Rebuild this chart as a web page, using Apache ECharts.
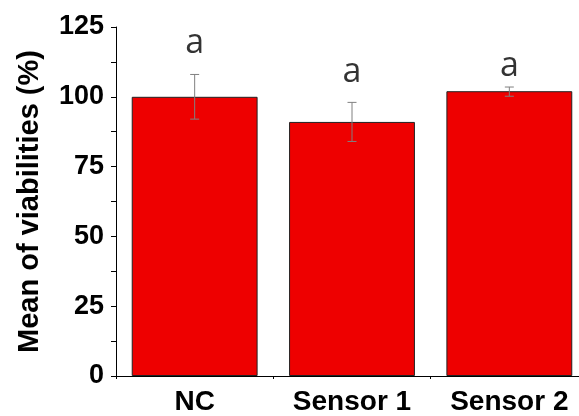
<!DOCTYPE html>
<html><head><meta charset="utf-8">
<script src="https://cdn.jsdelivr.net/npm/echarts@6/dist/echarts.min.js"></script>
<style>html,body{margin:0;padding:0;background:#fff;overflow:hidden}#c{width:600px;height:416px}</style>
</head><body><div id="c"></div>
<script>
const categories = ['NC', 'Sensor 1', 'Sensor 2'];
const means = [100, 91, 102];
const errLow = [92, 84, 100.2];
const errHigh = [108, 98, 103.5];
const letters = ['a', 'a', 'a'];
const letterPos = [119.3, 108.6, 110.8];
const yTicks = [0, 25, 50, 75, 100, 125];

const chart = echarts.init(document.getElementById('c'));
const font = 'Liberation Sans, Arial, sans-serif';
chart.setOption({
  animation: false,
  grid: { left: 116, top: 27, bottom: 38, right: 12, containLabel: false },
  xAxis: [{
    type: 'category', data: categories,
    axisLine: { lineStyle: { color: '#000', width: 1 } },
    axisTick: { alignWithLabel: true, length: 6, lineStyle: { color: '#000' } },
    axisLabel: { fontFamily: font, fontWeight: 'bold', fontSize: 28, color: '#000', margin: 12 }
  }, {
    type: 'category', data: categories, position: 'bottom',
    axisLine: { show: false },
    axisTick: { show: true, length: 3, lineStyle: { color: '#000' } },
    axisLabel: { show: false }
  }],
  yAxis: {
    type: 'value', min: 0, max: 125, interval: 25,
    name: 'Mean of viabilities (%)', nameLocation: 'middle', nameGap: 72,
    nameTextStyle: { fontFamily: font, fontWeight: 'bold', fontSize: 29, color: '#000' },
    axisLine: { show: true, lineStyle: { color: '#000', width: 1 } },
    axisTick: { show: true, length: 5, lineStyle: { color: '#000' } },
    minorTick: { show: true, splitNumber: 2, length: 5, lineStyle: { color: '#000' } },
    splitLine: { show: false },
    axisLabel: { fontFamily: font, fontWeight: 'bold', fontSize: 27, color: '#000', margin: 12,
      formatter: v => yTicks.includes(v) ? String(v) : '' }
  },
  series: [{
    type: 'bar', data: means, barCategoryGap: '20%',
    itemStyle: { color: '#ee0000', borderColor: '#222', borderWidth: 1 }
  }, {
    type: 'custom',
    data: categories.map((c, i) => [i, errLow[i], errHigh[i]]),
    renderItem: (params, api) => {
      const lo = api.coord([api.value(0), api.value(1)]);
      const hi = api.coord([api.value(0), api.value(2)]);
      const w = 4.5;
      const st = { stroke: '#808080', lineWidth: 1 };
      return { type: 'group', children: [
        { type: 'line', shape: { x1: lo[0], y1: lo[1], x2: hi[0], y2: hi[1] }, style: st },
        { type: 'line', shape: { x1: lo[0] - w, y1: lo[1], x2: lo[0] + w, y2: lo[1] }, style: st },
        { type: 'line', shape: { x1: hi[0] - w, y1: hi[1], x2: hi[0] + w, y2: hi[1] }, style: st }
      ]};
    },
    z: 5
  }, {
    type: 'scatter', symbolSize: 0,
    data: letterPos.map((v, i) => [i, v]),
    label: { show: true, position: 'inside', formatter: p => letters[p.dataIndex],
      fontFamily: 'Open Sans, sans-serif', fontSize: 34, color: '#000' }
  }]
});
</script></body></html>
